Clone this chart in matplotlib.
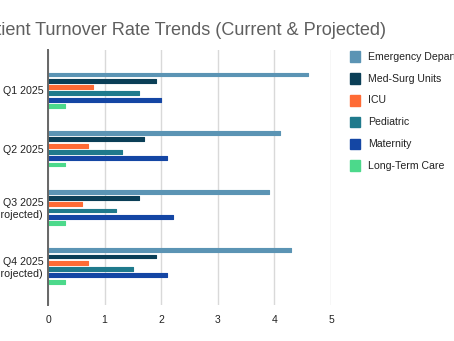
import matplotlib
matplotlib.use("Agg")
import matplotlib.pyplot as plt
from matplotlib.patches import Rectangle
import numpy as np

plt.rcParams["font.family"] = ["Liberation Sans", "DejaVu Sans"]

quarters = ["Q1 2025", "Q2 2025", "Q3 2025\n(Projected)", "Q4 2025\n(Projected)"]
units = ["Emergency Department", "Med-Surg Units", "ICU", "Pediatric", "Maternity", "Long-Term Care"]
emergency = [4.6, 4.1, 3.9, 4.3]
med_surg = [1.9, 1.7, 1.6, 1.9]
icu = [0.8, 0.7, 0.6, 0.7]
pediatric = [1.6, 1.3, 1.2, 1.5]
maternity = [2.0, 2.1, 2.2, 2.1]
long_term = [0.3, 0.3, 0.3, 0.3]
colors = ["#5b94b4", "#0b3f57", "#ff6b35", "#1f7a8c", "#1446a4", "#4cd98b"]

series = [emergency, med_surg, icu, pediatric, maternity, long_term]

fig = plt.figure(figsize=(4.54, 3.41), dpi=100, facecolor="white")
ax = fig.add_axes([48 / 454, 1 - 305 / 341, (331 - 48) / 454, (305 - 50) / 341])

y = np.arange(len(quarters))
pitch = 0.1075
bar_h = 0.066
for i, (vals, c) in enumerate(zip(series, colors)):
    off = (i - (len(series) - 1) / 2) * pitch
    ax.barh(y + off, vals, height=bar_h, color=c, edgecolor=c,
            linewidth=0.8, joinstyle="round", zorder=3)

ax.set_xlim(0, 5)
ax.set_ylim(3.666, -0.686)
ax.set_xticks(range(6))
ax.set_yticks(y, quarters)
ax.tick_params(axis="both", length=0, labelcolor="#222222")
ax.tick_params(axis="x", pad=7, labelsize=7.5)
ax.tick_params(axis="y", pad=3.5, labelsize=7.7)
ax.grid(axis="x", color="#d9d9d9", linewidth=1)
for s in ["top", "right", "bottom"]:
    ax.spines[s].set_visible(False)
ax.spines["left"].set_color("#666666")
ax.spines["left"].set_linewidth(1.4)
ax.spines["left"].set_zorder(4)

fig.text(386 / 454, 1 - 35 / 341, "Patient Turnover Rate Trends (Current & Projected)",
         ha="right", va="baseline", fontsize=13.1, color="#5f5f5f")

# legend, drawn by hand so it can run off the right edge like the original
for i, (name, c) in enumerate(zip(units, colors)):
    cy = 56.7 + i * 21.8
    fig.patches.append(Rectangle((349.5 / 454, 1 - (cy + 5.3) / 341), 10.6 / 454, 10.6 / 341,
                                 transform=fig.transFigure, color=c))
    fig.text(368 / 454, 1 - cy / 341, name, ha="left", va="center",
             fontsize=7.6, color="#222222")

fig.savefig("out.png", dpi=100)
